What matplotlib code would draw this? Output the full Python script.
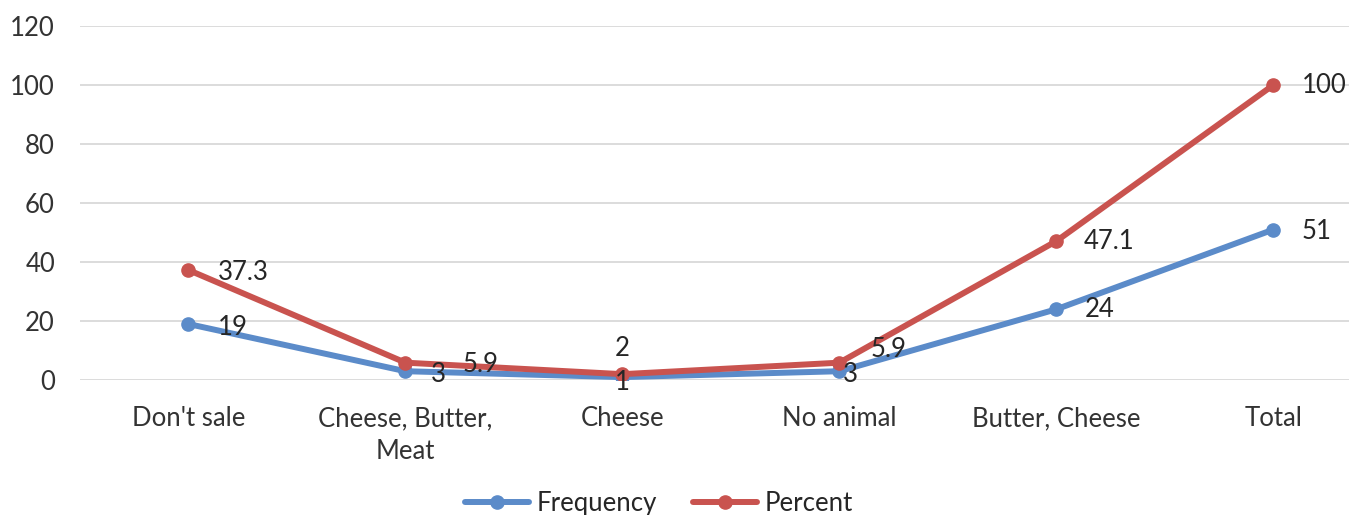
import matplotlib.pyplot as plt

# categories and the two series
categories = ["Don't sale", "Cheese, Butter,\nMeat", "Cheese", "No animal", "Butter, Cheese", "Total"]
frequency = [19, 3, 1, 3, 24, 51]
percent = [37.3, 5.9, 2, 5.9, 47.1, 100]

plt.rcParams['font.family'] = ['Lato', 'DejaVu Sans']

fig = plt.figure(figsize=(13.49, 5.15), dpi=100)
ax = fig.add_axes([0.0593, 0.262, 0.965, 0.6874])

blue = '#5B8BC9'
red = '#C9534F'
x = list(range(len(categories)))

ax.plot(x, frequency, color=blue, lw=4.3, marker='o', ms=9.5, label='Frequency',
        solid_capstyle='round', zorder=3)
ax.plot(x, percent, color=red, lw=4.3, marker='o', ms=9.5, label='Percent',
        solid_capstyle='round', zorder=3)

# label offsets in pixels (dx, dy) for each point
freq_off = [(44, -3), (33, -3), (0, -5), (11, -3), (43, 0), (43, -2)]
pct_off = [(55, -2), (75, -2), (0, 26), (49, 13), (53, 0), (51, 0)]
for i in x:
    ax.annotate(f"{frequency[i]:g}", (i, frequency[i]), xytext=freq_off[i],
                textcoords='offset pixels', ha='center', va='center',
                fontsize=18.5, color='#262626', zorder=4)
    ax.annotate(f"{percent[i]:g}", (i, percent[i]), xytext=pct_off[i],
                textcoords='offset pixels', ha='center', va='center',
                fontsize=18.5, color='#262626', zorder=4)

ax.set_xlim(-0.5, len(categories) - 0.5)
ax.set_ylim(0, 120)
ax.set_yticks(range(0, 121, 20))
ax.set_xticks(x)
ax.set_xticklabels(categories, fontsize=18.5, color='#333333', linespacing=1.4)
ax.tick_params(axis='y', labelsize=18.5, labelcolor='#333333', length=0, pad=18)
ax.tick_params(axis='x', length=0, pad=19)
ax.grid(axis='y', color='#D9D9D9', lw=1.3)
ax.set_axisbelow(True)
for s in ax.spines.values():
    s.set_visible(False)

fig.legend(loc='center', bbox_to_anchor=(0.4885, 0.022), ncol=2, frameon=False,
           fontsize=18.5, handlelength=2.5, handletextpad=0.3, columnspacing=1.37,
           labelcolor='#262626')

fig.savefig('out.png', dpi=100)
